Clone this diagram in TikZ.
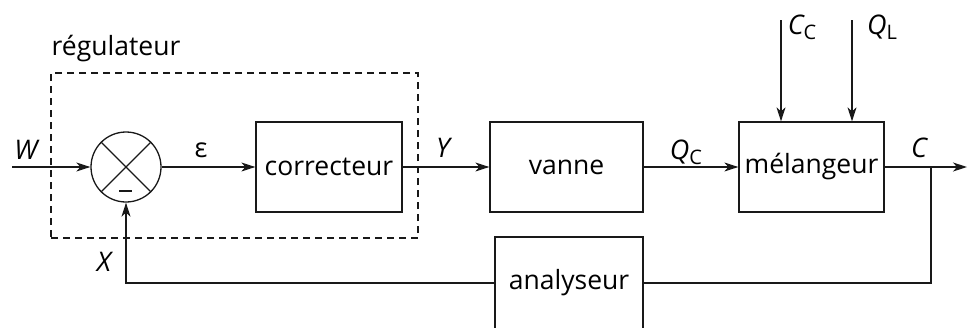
\documentclass[tikz,border=0pt]{standalone}
\usepackage{fontspec}
\setmainfont{Open Sans}
\usetikzlibrary{arrows.meta,calc}
\newcommand{\sbx}[1]{\raisebox{-5pt}{\fontsize{20}{22}\selectfont\upshape #1}}
\begin{document}
\begin{tikzpicture}[x=1pt,y=-1pt,
  line width=1.3pt, draw=black!90,
  blk/.style={draw, line width=1.3pt, inner sep=0pt, minimum height=90pt, font=\fontsize{26.5}{30}\selectfont},
  lbl/.style={inner sep=0pt, font=\fontsize{27}{30}\selectfont\itshape},
  arr/.style={-{Stealth[length=14pt,width=9pt,inset=4pt]}},
  dsh/.style={dash pattern=on 7pt off 5pt, line width=1.3pt}]
\clip (0,0) rectangle (968,327);
% blocks
\node[draw, circle, minimum size=70pt, inner sep=0pt, line width=1.3pt] (sum) at (126,167) {};
\node[blk, minimum width=146pt] (cor) at (329,167) {correcteur};
\node[blk, minimum width=153pt] (van) at (566.5,167) {vanne};
\node[blk, minimum width=145pt] (mel) at (811.5,167) {mélangeur};
\node[blk, minimum width=148pt, minimum height=92pt] (ana) at (569,283) {analyseur};
% sum decorations
\draw (sum.north west) -- (sum.south east);
\draw (sum.north east) -- (sum.south west);
\coordinate (m1) at ($(sum.center)+(-7,24)$);
\coordinate (m2) at ($(sum.center)+(6,24)$);
\draw (m1) -- (m2);
% regulator box
\node[draw, dsh, minimum width=367pt, minimum height=165pt, inner sep=0pt] (reg) at (234.5,155.5) {};
\node[anchor=west, inner sep=0pt, font=\fontsize{26.5}{30}\selectfont] (regl) at (51,49) {régulateur};
% coordinates
\coordinate (w) at (12,167);
\coordinate (out) at (967,167);
\coordinate (br) at (931,167);
\coordinate (cc) at (781,20);
\coordinate (ql) at (852,20);
% connectors
\draw[arr] (w) -- (sum.west);
\draw[arr] (sum.east) -- (cor.west);
\draw[arr] (cor.east) -- (van.west);
\draw[arr] (van.east) -- (mel.west);
\draw[arr] (mel.east) -- (out);
\draw (br) |- (ana.east);
\draw[arr] (ana.west) -| (sum.south);
\draw[arr] (cc) -- (cc |- mel.north);
\draw[arr] (ql) -- (ql |- mel.north);
% labels
\node[lbl] (lw) at (26,150) {W};
\node[lbl, font=\fontsize{27}{30}\selectfont] (le) at (201,150) {ε};
\node[lbl] (ly) at (443,148) {Y};
\node[lbl] (lq) at (686,152) {Q\sbx{C}};
\node[lbl] (lc) at (919,148) {C};
\node[lbl] (lx) at (104,262) {X};
\node[lbl] (lcc) at (802,27) {C\sbx{C}};
\node[lbl] (lql) at (882,27) {Q\sbx{L}};
\end{tikzpicture}
\end{document}
